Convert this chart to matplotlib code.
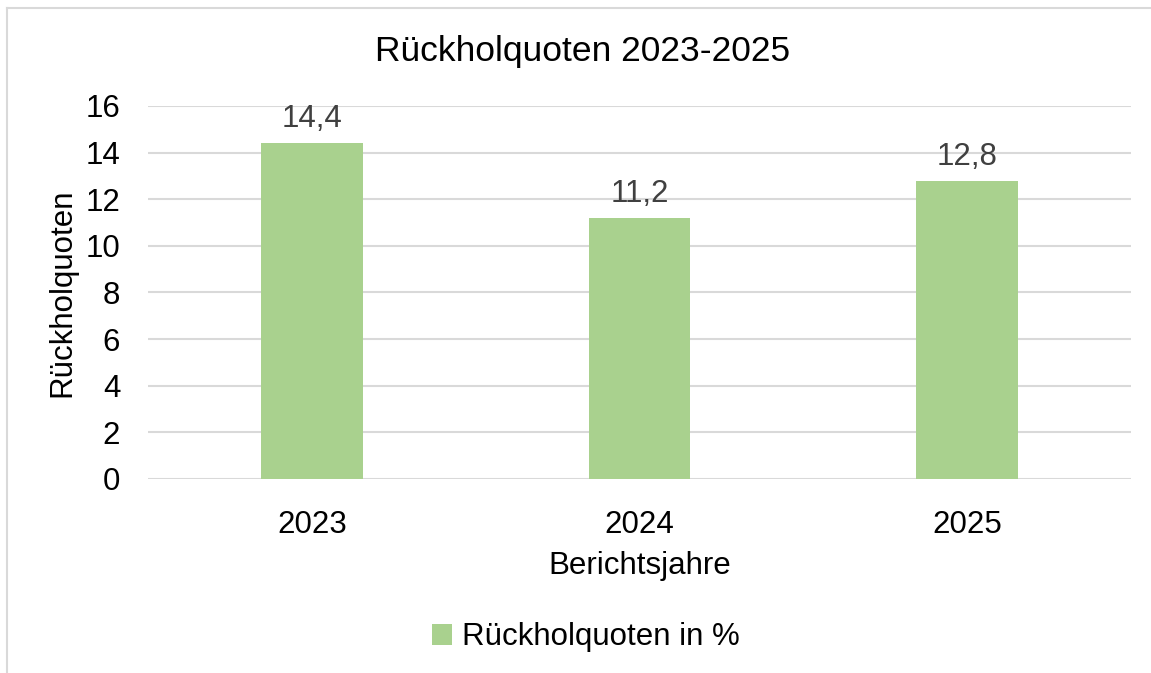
import numpy as np
import matplotlib.pyplot as plt
import matplotlib
from matplotlib.lines import Line2D
from matplotlib.patches import Patch

matplotlib.rcParams['font.family'] = ['Liberation Sans', 'DejaVu Sans']

years = ['2023', '2024', '2025']
quoten = [14.4, 11.2, 12.8]
labels = ['14,4', '11,2', '12,8']
yticks = [0, 2, 4, 6, 8, 10, 12, 14, 16]

bar_color = '#a9d18e'
grid_color = '#d9d9d9'
fs = 22.5

fig = plt.figure(figsize=(11.51, 6.73), dpi=100)
ax = fig.add_axes([0.1286, 0.2883, 0.8540, 0.5542])

x = np.arange(len(years))
ax.bar(x, quoten, width=0.31, color=bar_color, zorder=3)
for xi, v, lab in zip(x, quoten, labels):
    ax.text(xi, v + 0.38, lab, ha='center', va='bottom', fontsize=fs,
            color='#404040')

ax.set_xlim(-0.5, 2.5)
ax.set_ylim(0, 16)
ax.set_yticks(yticks)
ax.set_xticks(x)
ax.set_xticklabels(years)
ax.tick_params(axis='both', length=0, labelsize=fs, colors='black')
ax.tick_params(axis='y', pad=20)
ax.tick_params(axis='x', pad=22)
ax.yaxis.grid(True, color=grid_color, linewidth=1.5, zorder=0)
for s in ax.spines.values():
    s.set_visible(False)

ax.set_ylabel('Rückholquoten', fontsize=fs, labelpad=6)
ax.set_xlabel('Berichtsjahre', fontsize=fs, labelpad=8)
fig.text(0.506, 0.924, 'Rückholquoten 2023-2025', ha='center', va='center',
         fontsize=25.5)

handle = Patch(facecolor=bar_color, edgecolor='none')
fig.legend([handle], ['Rückholquoten in %'], loc='center',
           bbox_to_anchor=(0.509, 0.053), frameon=False, fontsize=fs,
           handlelength=0.65, handleheight=0.65, handletextpad=0.3)

# chart border (only top and left visible in the crop)
fig.add_artist(Line2D([7 / 1151, 7 / 1151], [0, 1 - 8 / 673],
                      color=grid_color, linewidth=1.5))
fig.add_artist(Line2D([7 / 1151, 1], [1 - 8 / 673, 1 - 8 / 673],
                      color=grid_color, linewidth=1.5))

fig.savefig('out.png', dpi=100)
